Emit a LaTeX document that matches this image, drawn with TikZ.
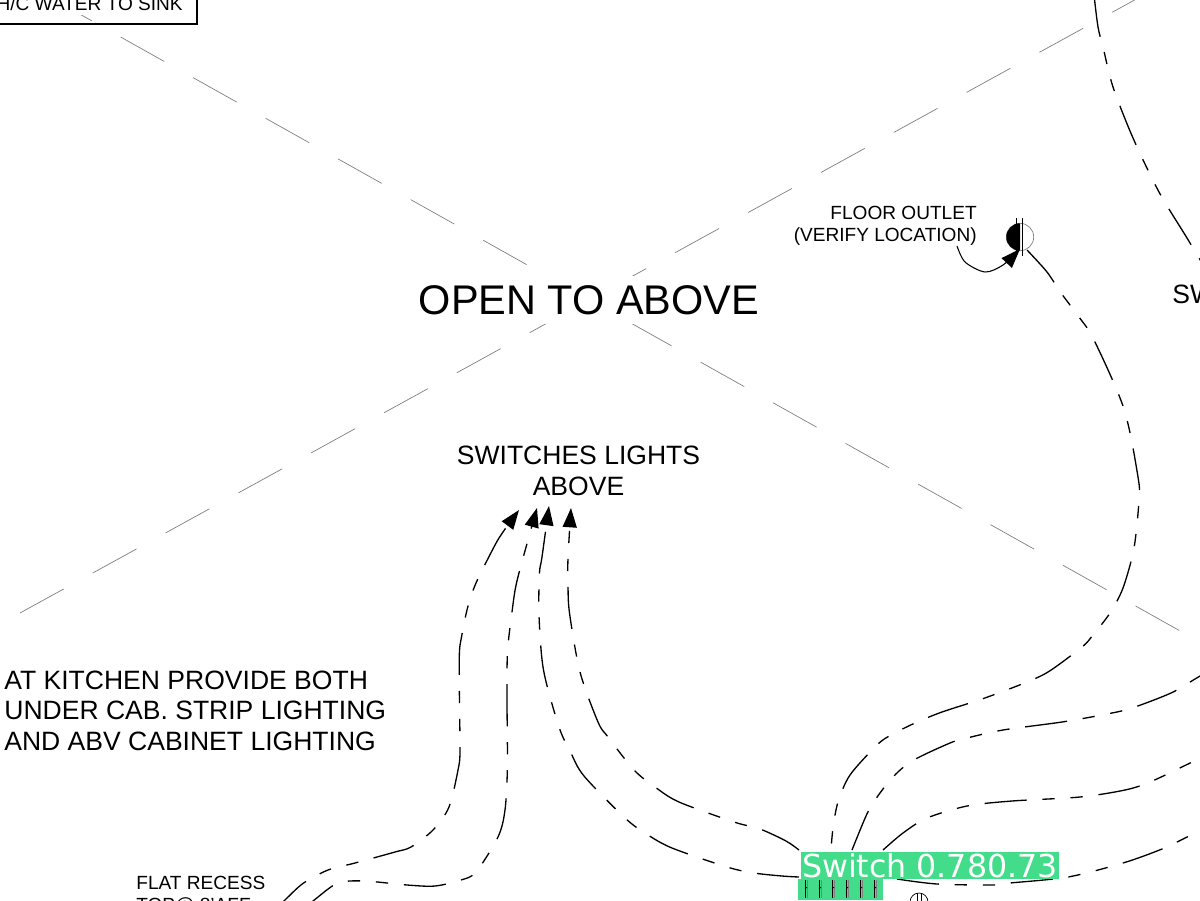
\documentclass[tikz,border=0pt]{standalone}
\usepackage{fontspec}
\setmainfont{Liberation Sans}
\newfontfamily\badgefont{DejaVu Sans}
\usetikzlibrary{arrows.meta}
\definecolor{badgegreen}{HTML}{42DC8A}
\tikzset{
  planlabel/.style={font=\fontsize{15.1}{17.3}\selectfont,inner sep=0pt,align=left},
  smalllabel/.style={font=\fontsize{10.85}{12.4}\selectfont,inner sep=0pt},
  openline/.style={gray,line width=0.4pt,dash pattern=on 28.4pt off 18.9pt},
  wireline/.style={black,line width=0.75pt,dash pattern=on 24pt off 9pt on 7pt off 9pt on 7pt off 9pt},
  wirearrow/.style={wireline,-{Triangle[length=11pt,width=8pt]}}
}
\begin{document}
\begin{tikzpicture}[x=0.02cm,y=-0.02cm]
  \useasboundingbox (0,0) rectangle (1200,900);
  \clip (0,0) rectangle (1200,900);
  % Open to above cross
  \coordinate (crossa) at (48.2,-3.6);
  \coordinate (crossb) at (1182,632);
  \coordinate (crossc) at (20,613);
  \coordinate (crossd) at (1140,-3);
  \draw[openline] (crossa) -- (crossb);
  \draw[openline] (crossc) -- (crossd);
  \node[font=\fontsize{23.6}{28}\selectfont,fill=white,inner sep=0pt,minimum height=0.96cm] (opentext) at (589,300) {OPEN TO ABOVE};
  % Labels
  \node[planlabel,align=center] (switchtext) at (578.5,471) {SWITCHES LIGHTS\\ABOVE};
  \node[planlabel,anchor=west] (kitchentext) at (4,710.5) {AT KITCHEN PROVIDE BOTH\\UNDER CAB. STRIP LIGHTING\\AND ABV CABINET LIGHTING};
  \node[planlabel,anchor=west] (swtext) at (1172,294) {SW};
  \node[smalllabel,align=right,anchor=east] (outlettext) at (977,226) {FLOOR OUTLET\\(VERIFY LOCATION)};
  \node[smalllabel,align=left,anchor=north west] (recesstext) at (136,876) {FLAT RECESS\\TOP@ 8'AFF};
  \draw[line width=1.6pt] (-10,-10) rectangle (197,24);
  \node[smalllabel,anchor=east,fill=white,minimum height=0.44cm] (sinktext) at (183,4) {H/C WATER TO SINK};
  % Floor outlet
  \draw[gray,line width=0.4pt] (1020,237) circle (13.7);
  \fill (1020,250.7) arc (90:270:13.7) -- cycle;
  \foreach \i in {1016,1022.5} {
    \draw[line width=0.4pt] (\i,218) -- (\i,256);
  }
  \draw[line width=0.6pt,-{Triangle[length=11pt,width=8pt]}] plot[smooth] coordinates {(957,246) (965,262) (985,272) (1003,265) (1020,249)};
  % Wires
  \draw[wireline] plot[smooth] coordinates {(1094,-5) (1098,27) (1103,47) (1113,87) (1133,138) (1159,192) (1187,238) (1205,268)};
  \draw[wireline] plot[smooth] coordinates {(1027,250) (1047,272) (1061,293) (1079,317) (1094,340) (1124,409) (1138,477) (1139,500) (1134,548) (1123,588) (1110,613) (1093,635) (1082,647) (1048,672) (1022,684) (982,699) (942,712) (915,723) (891,735) (877,745) (850,775) (838,802) (833,828) (831,850)};
  \draw[wireline] plot[smooth] coordinates {(852,850) (866,816) (875,800) (892,778) (912,761) (950,743) (967,738) (1003,730) (1062,722) (1107,714) (1132,708) (1171,693) (1195,679) (1205,673)};
  \draw[wireline] plot[smooth] coordinates {(883,850) (903,833) (927,818) (967,806) (1012,801) (1080,797) (1125,790) (1150,782) (1188,764) (1205,755)};
  \draw[wireline] plot[smooth] coordinates {(897,879) (937,884) (993,885) (1010,883) (1068,877) (1123,863) (1162,849) (1187,837) (1205,828)};
  \draw[wirearrow] plot[smooth] coordinates {(799,850) (786,841) (760,829) (734,822) (679,802) (655,787) (634,770) (608,737) (598,722) (580,672) (569.5,613) (568,585) (568,558) (571,508)};
  \draw[wirearrow] plot[smooth] coordinates {(799,877) (782,876) (754,873) (727,867) (672,848) (646.5,834) (625,818) (584,776) (570.5,752) (559,727) (543.5,670) (539,615) (539.5,573) (542,557) (549,506)};
  \draw[wirearrow] plot[smooth] coordinates {(300,912) (315.5,899) (338,883) (364.5,881) (407,885) (435,886) (461,880) (476,872) (498,837) (505,810) (507.4,767) (507,700) (507.5,652) (512,612) (516.5,583) (528,540) (537,508)};
  \draw[wirearrow] plot[smooth] coordinates {(275,910) (287,898) (303.6,883) (328,870) (355,863) (395,852) (411,847) (433,830) (449,807) (458.4,768) (460,750) (459.4,695) (459.4,653) (461.5,637) (467.5,608) (476,583) (494.5,546) (503,532) (519,510)};
  % Switch badge
  \fill[badgegreen] (798,879) rectangle (883,900);
  \foreach \i in {806,820,833,847,861,875} {
    \draw[line width=0.4pt] (\i-1,880) -- (\i-1,898);
    \draw[gray,line width=0.4pt] (\i+1,880) -- (\i+1,898);
    \draw[line width=0.4pt] (\i-1,889) -- (\i+1,887);
  }
  \draw[line width=0.4pt] (919,902) circle (9);
  \draw[line width=0.4pt] (917,893) -- (917,905);
  \draw[line width=0.4pt] (921,893) -- (921,905);
  \node[fill=badgegreen,text=white,font=\badgefont\fontsize{18}{20}\selectfont,anchor=west,minimum width=258*0.02cm,minimum height=27*0.02cm,inner sep=0pt,align=center] (badge) at (800.5,865.5) {Switch 0.780.73};
\end{tikzpicture}
\end{document}
